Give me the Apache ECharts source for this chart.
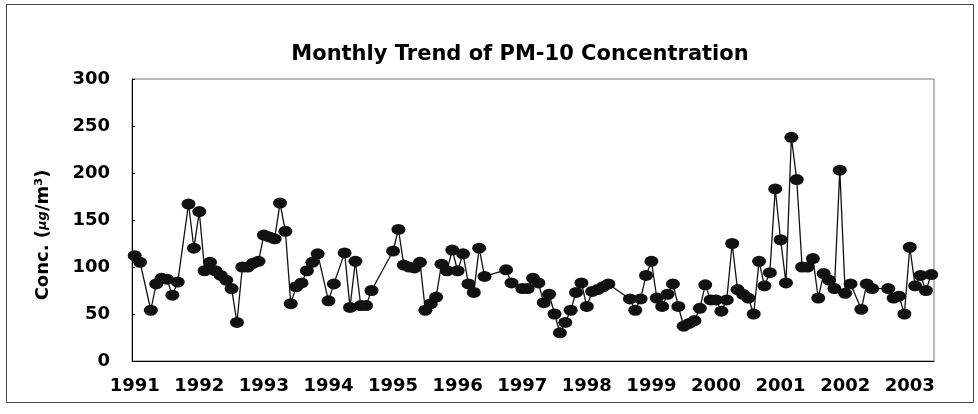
<!DOCTYPE html>
<html>
<head>
<meta charset="utf-8">
<title>Monthly Trend of PM-10 Concentration</title>
<script src="https://cdn.jsdelivr.net/npm/echarts@6.0.0/dist/echarts.min.js"></script>
<style>
html, body { margin: 0; padding: 0; background: #fff; }
#main { width: 978px; height: 414px; }
</style>
</head>
<body>
<div id="main"></div>
<script>
// year labels on the x axis (one label every 12 months)
var years = ['1991', '1992', '1993', '1994', '1995', '1996', '1997',
             '1998', '1999', '2000', '2001', '2002', '2003'];

// monthly PM-10 values, null = no data that month
var y1991 = [112, 105, null, 54, 82, 88, 87, 70, 84, null, 167, 120];
var y1992 = [159, 96, 105, 96, 91, 86, 77, 41, 100, 100, 104, 106];
var y1993 = [134, 132, 130, 168, 138, 61, 79, 83, 96, 105, 114, null];
var y1994 = [64, 82, null, 115, 57, 106, 59, 59, 75, null, null, null];
var y1995 = [117, 140, 102, 100, 99, 105, 54, 61, 68, 103, 96, 118];
var y1996 = [96, 114, 82, 73, 120, 90, null, null, null, 97, 83, null];
var y1997 = [77, 77, 88, 83, 62, 71, 50, 30, 41, 54, 73, 83];
var y1998 = [58, 74, 76, 79, 82, null, null, null, 66, 54, 66, 91];
var y1999 = [106, 67, 58, 71, 82, 58, 37, 40, 43, 56, 81, 65];
var y2000 = [65, 53, 65, 125, 76, 71, 67, 50, 106, 80, 94, 183];
var y2001 = [129, 83, 238, 193, 100, 100, 109, 67, 93, 86, 77, 203];
var y2002 = [72, 82, null, 55, 82, 77, null, null, 77, 67, 69, 50];
var y2003 = [121, 80, 91, 75, 92];

var values = [].concat(y1991, y1992, y1993, y1994, y1995, y1996, y1997,
                       y1998, y1999, y2000, y2001, y2002, y2003);

var months = [];
for (var i = 0; i < values.length; i++) {
    months.push(years[Math.floor(i / 12)] + '-' + (i % 12 + 1));
}

var fontFamily = "'DejaVu Sans', 'Liberation Sans', sans-serif";

var myChart = echarts.init(document.getElementById('main'));
var option = {
    backgroundColor: '#fff',
    animation: false,
    title: {
        text: 'Monthly Trend of PM-10 Concentration',
        left: 515,
        top: 39,
        textAlign: 'center',
        textStyle: {
            color: '#000',
            fontFamily: fontFamily,
            fontWeight: 'bold',
            fontSize: 21
        }
    },
    graphic: [
        {
            type: 'rect',
            shape: { x: 6.5, y: 4.5, width: 967, height: 398 },
            style: { fill: 'none', stroke: '#444', lineWidth: 1 },
            silent: true
        }
    ],
    grid: {
        left: 132,
        right: 44,
        top: 79,
        bottom: 53,
        show: true,
        borderColor: '#777',
        borderWidth: 1
    },
    xAxis: {
        type: 'category',
        data: months,
        boundaryGap: true,
        axisLine: { lineStyle: { color: '#000', width: 1 } },
        axisTick: {
            inside: true,
            length: 6,
            interval: function (index) { return index % 12 === 0; },
            lineStyle: { color: '#000' }
        },
        axisLabel: {
            interval: function (index) { return index % 12 === 0; },
            formatter: function (value) { return value.split('-')[0]; },
            color: '#000',
            fontFamily: fontFamily,
            fontWeight: 'bold',
            fontSize: 18,
            margin: 16
        },
        splitLine: { show: false }
    },
    yAxis: {
        type: 'value',
        min: 0,
        max: 300,
        interval: 50,
        name: 'Conc. ({u|μg}/m³)',
        nameLocation: 'middle',
        nameGap: 80,
        nameRotate: 90,
        nameTextStyle: {
            color: '#000',
            fontFamily: fontFamily,
            fontWeight: 'bold',
            fontSize: 18,
            padding: [0, 30, 0, 0],
            rich: {
                u: {
                    fontFamily: fontFamily,
                    fontStyle: 'italic',
                    fontSize: 13,
                    color: '#000'
                }
            }
        },
        axisLine: { show: true, lineStyle: { color: '#000', width: 1 } },
        axisTick: { show: true, inside: true, length: 3, lineStyle: { color: '#000' } },
        axisLabel: {
            color: '#000',
            fontFamily: fontFamily,
            fontWeight: 'bold',
            fontSize: 18,
            margin: 22
        },
        splitLine: { show: false }
    },
    series: [
        {
            name: 'PM-10',
            type: 'line',
            data: values,
            connectNulls: true,
            showAllSymbol: true,
            symbol: 'circle',
            symbolSize: [14, 11],
            itemStyle: { color: '#111', borderWidth: 0 },
            lineStyle: { color: '#111', width: 1.3 }
        }
    ]
};
myChart.setOption(option);
</script>
</body>
</html>
